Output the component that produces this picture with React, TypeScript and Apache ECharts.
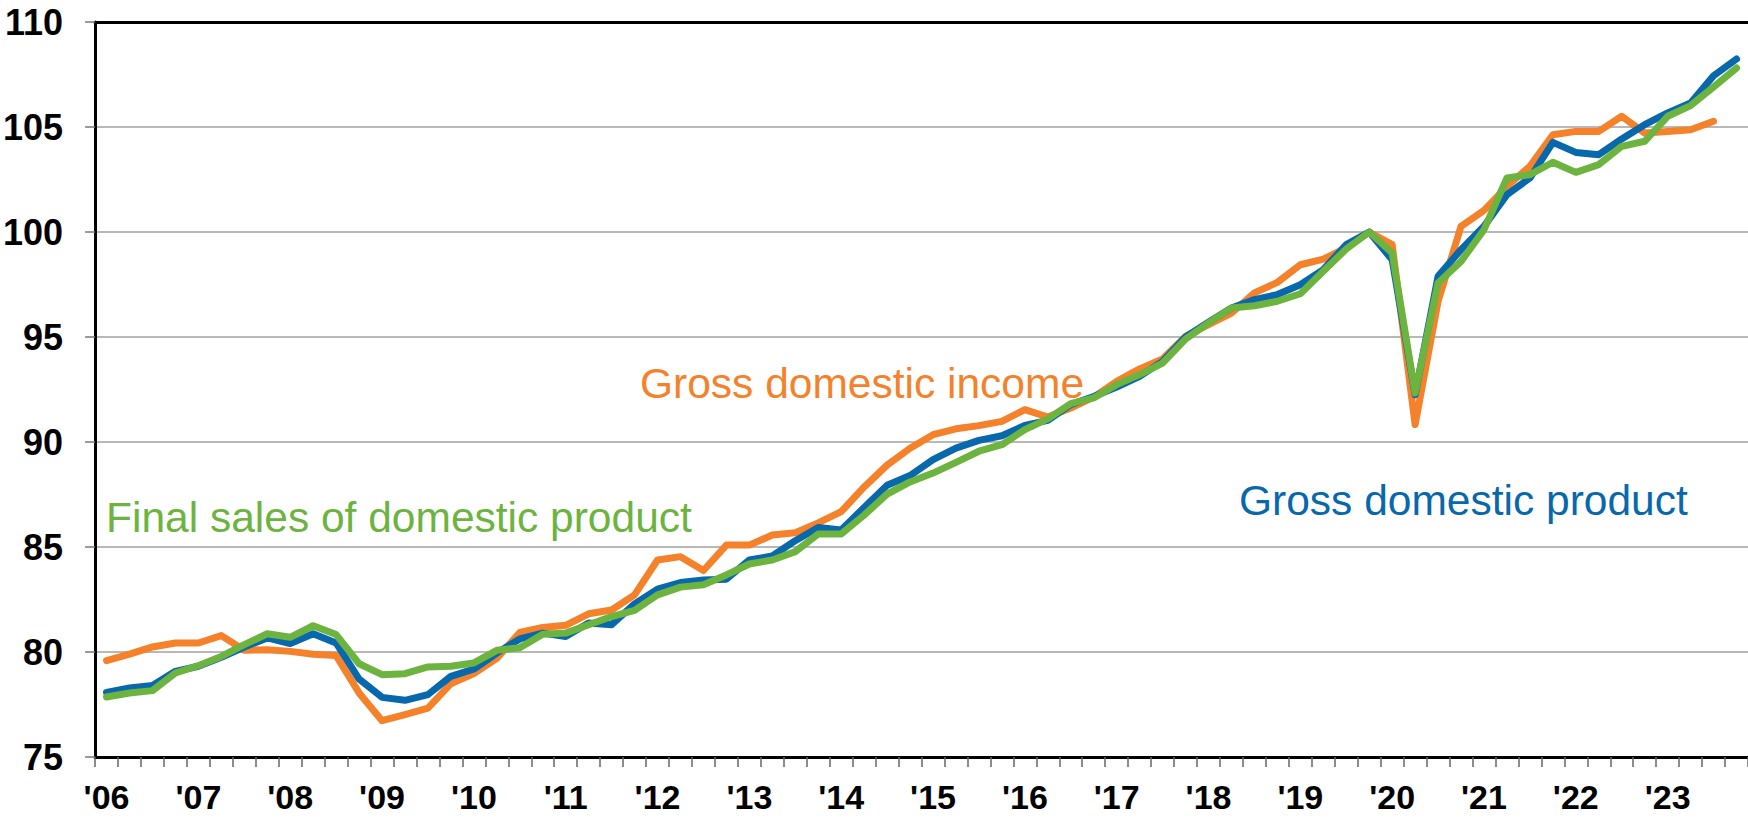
import React, { useEffect, useRef } from "react";
import * as echarts from "echarts";

const years = [2006, 2007, 2008, 2009, 2010, 2011, 2012, 2013, 2014, 2015, 2016, 2017, 2018, 2019, 2020, 2021, 2022, 2023];
const quarters = ["Q1", "Q2", "Q3", "Q4"];
const categories: string[] = [];
years.forEach((y) => quarters.forEach((q) => categories.push(`${y}${q}`)));

const yTicks = { min: 75, max: 110, interval: 5 };

const gdi = [
  79.59, 79.9, 80.24, 80.43, 80.43, 80.78, 80.08, 80.11, 80.03, 79.89, 79.83, 78.05,
  76.73, 77.02, 77.33, 78.49, 78.97, 79.7, 80.93, 81.17, 81.27, 81.82, 82.0, 82.72,
  84.38, 84.54, 83.88, 85.09, 85.09, 85.57, 85.68, 86.15, 86.68, 87.86, 88.9, 89.7,
  90.35, 90.63, 90.78, 90.98, 91.54, 91.19, 91.62, 92.14, 92.89, 93.48, 93.95, 95.03,
  95.59, 96.14, 97.1, 97.6, 98.44, 98.71, 99.24, 100.0, 99.4, 90.83, 96.7, 100.27,
  101.03, 102.17, 103.13, 104.63, 104.79, 104.79, 105.51, 104.71, 104.79, 104.87, 105.27,
];

const gdp = [
  78.08, 78.29, 78.41, 79.08, 79.32, 79.75, 80.24, 80.67, 80.4, 80.87, 80.43, 78.71,
  77.84, 77.7, 77.97, 78.84, 79.19, 79.95, 80.62, 80.9, 80.74, 81.38, 81.3, 82.29,
  82.99, 83.31, 83.43, 83.47, 84.38, 84.57, 85.3, 85.93, 85.81, 86.88, 87.94, 88.4,
  89.16, 89.71, 90.08, 90.3, 90.79, 91.03, 91.78, 92.17, 92.62, 93.13, 93.84, 95.0,
  95.7, 96.38, 96.78, 97.02, 97.49, 98.21, 99.4, 100.0, 98.68, 92.25, 97.89, 99.16,
  100.27, 101.78, 102.57, 104.27, 103.79, 103.68, 104.43, 105.11, 105.67, 106.14, 107.44, 108.24,
];

const finalSales = [
  77.86, 78.05, 78.16, 79.0, 79.35, 79.79, 80.35, 80.87, 80.7, 81.25, 80.83, 79.44,
  78.92, 78.97, 79.29, 79.32, 79.48, 80.08, 80.2, 80.85, 80.9, 81.3, 81.69, 81.98,
  82.72, 83.09, 83.2, 83.67, 84.19, 84.38, 84.78, 85.62, 85.62, 86.52, 87.52, 88.1,
  88.52, 89.03, 89.56, 89.87, 90.59, 91.1, 91.83, 92.1, 92.73, 93.21, 93.76, 94.9,
  95.67, 96.38, 96.49, 96.7, 97.06, 98.13, 99.19, 100.0, 99.0, 92.33, 97.57, 98.6,
  100.11, 102.57, 102.73, 103.32, 102.84, 103.21, 104.08, 104.32, 105.51, 106.02, 106.9, 107.81,
];

const BLUE = "#0868ac";
const ORANGE = "#f5822a";
const GREEN = "#6db33f";
const FONT = "'Liberation Sans', Arial, sans-serif";

export default function App() {
  const ref = useRef<HTMLDivElement>(null);
  useEffect(() => {
    if (!ref.current) return;
    const chart = echarts.init(ref.current, undefined, { renderer: "svg" });
    const lineStyle = (color: string) => ({ color, width: 7, cap: "round", join: "round" });
    chart.setOption({
      animation: false,
      backgroundColor: "#ffffff",
      grid: { left: 95, right: 0, top: 22, bottom: 61, containLabel: false },
      xAxis: [
        {
          type: "category",
          data: categories,
          boundaryGap: true,
          position: "bottom",
          axisLine: { show: true, lineStyle: { color: "#000", width: 3 } },
          axisTick: { show: true, interval: 0, length: 10, lineStyle: { color: "#666", width: 1.5 } },
          axisLabel: {
            interval: (idx: number) => idx % 4 === 0,
            formatter: (v: string) => "'" + v.slice(2, 4),
            margin: 25,
            lineHeight: 30,
            fontFamily: FONT,
            fontWeight: "bold",
            fontSize: 34,
            color: "#000",
          },
          splitLine: { show: false },
        },
        {
          type: "category",
          data: categories,
          position: "top",
          axisLine: { show: true, onZero: false, lineStyle: { color: "#000", width: 3 } },
          axisTick: { show: false },
          axisLabel: { show: false },
          splitLine: { show: false },
        },
      ],
      yAxis: {
        type: "value",
        min: yTicks.min,
        max: yTicks.max,
        interval: yTicks.interval,
        axisLine: { show: true, lineStyle: { color: "#000", width: 3 } },
        axisTick: { show: true, length: 10, lineStyle: { color: "#777", width: 1.5 } },
        axisLabel: {
          margin: 32,
          fontFamily: FONT,
          fontWeight: "bold",
          fontSize: 36,
          color: "#000",
        },
        splitLine: { show: true, lineStyle: { color: "#a0a0a0", width: 1.5 } },
      },
      series: [
        { name: "Gross domestic income", type: "line", data: gdi, showSymbol: false, lineStyle: lineStyle(ORANGE), itemStyle: { color: ORANGE }, z: 2 },
        { name: "Gross domestic product", type: "line", data: gdp, showSymbol: false, lineStyle: lineStyle(BLUE), itemStyle: { color: BLUE }, z: 3 },
        { name: "Final sales of domestic product", type: "line", data: finalSales, showSymbol: false, lineStyle: lineStyle(GREEN), itemStyle: { color: GREEN }, z: 4 },
      ],
      graphic: [
        {
          type: "text",
          x: 640,
          y: 383,
          style: { text: "Gross domestic income", fill: ORANGE, font: `42.5px ${FONT}`, textVerticalAlign: "middle", textAlign: "left" },
        },
        {
          type: "text",
          x: 106,
          y: 517,
          style: { text: "Final sales of domestic product", fill: GREEN, font: `42.5px ${FONT}`, textVerticalAlign: "middle", textAlign: "left" },
        },
        {
          type: "text",
          x: 1239,
          y: 500,
          style: { text: "Gross domestic product", fill: BLUE, font: `42.5px ${FONT}`, textVerticalAlign: "middle", textAlign: "left" },
        },
      ],
    });
    return () => chart.dispose();
  }, []);
  return (
    <div
      ref={ref}
      style={{ position: "fixed", left: 0, top: 0, width: 1748, height: 818, background: "#fff" }}
    />
  );
}
